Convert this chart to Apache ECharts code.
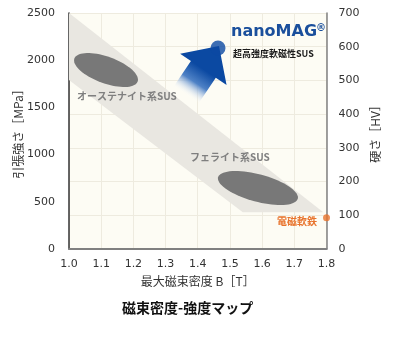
<!DOCTYPE html>
<html><head><meta charset="utf-8">
<script src="https://cdn.jsdelivr.net/npm/echarts@6/dist/echarts.min.js"></script>
<style>html,body{margin:0;padding:0;background:#fff}#c{width:400px;height:338px}</style>
</head><body><div id="c"></div>
<script>
// ---- data ----
const xTicks = [1.0, 1.1, 1.2, 1.3, 1.4, 1.5, 1.6, 1.7, 1.8];
const leftTicks = [0, 500, 1000, 1500, 2000, 2500];
const rightTicks = [0, 100, 200, 300, 400, 500, 600, 700];
// diagonal band (B [T], strength [MPa])
const bandB = [1.0, 1.79, 1.54, 1.0];
const bandMPa = [2500, 390, 390, 1790];
// ellipses: names, centre, major-axis ends, minor semi-axis (MPa)
const ellipseNames = ['オーステナイト系SUS', 'フェライト系SUS'];
const ellipseCenterB = [1.115, 1.587];
const ellipseCenterMPa = [1896, 646];
const ellipseEndB1 = [1.0165, 1.4635];
const ellipseEndMPa1 = [2013, 760];
const ellipseEndB2 = [1.213, 1.711];
const ellipseEndMPa2 = [1769, 533];
const ellipseMinorMPa = [141, 145];
// nanoMAG arrow (tail -> tip)
const arrowB = [1.3635, 1.466];
const arrowMPa = [1631, 2150];
// points
const nanoMagPoint = [1.463, 2129];
const ironPoint = [1.8, 330];

const chart = echarts.init(document.getElementById('c'), null, {renderer: 'canvas'});
const FONT = 'DejaVu Sans';
const JP = '"Noto Sans CJK JP"';

function bandRender(params, api) {
  const pts = bandB.map((b, i) => api.coord([b, bandMPa[i]]));
  return {type: 'polygon', shape: {points: pts}, style: {fill: '#e9e7e1'}, silent: true};
}
function ellipseRender(params, api) {
  const i = params.dataIndex;
  const c = api.coord([ellipseCenterB[i], ellipseCenterMPa[i]]);
  const p1 = api.coord([ellipseEndB1[i], ellipseEndMPa1[i]]);
  const p2 = api.coord([ellipseEndB2[i], ellipseEndMPa2[i]]);
  const a = Math.hypot(p2[0] - p1[0], p2[1] - p1[1]) / 2;
  const ang = Math.atan2(p2[1] - p1[1], p2[0] - p1[0]);
  const b = api.size([0, ellipseMinorMPa[i]])[1];
  const pts = [];
  for (let k = 0; k < 72; k++) {
    const t = k / 72 * Math.PI * 2;
    const x = a * Math.cos(t), y = b * Math.sin(t);
    pts.push([c[0] + x * Math.cos(ang) - y * Math.sin(ang), c[1] + x * Math.sin(ang) + y * Math.cos(ang)]);
  }
  return {type: 'polygon', shape: {points: pts}, style: {fill: '#787878'}, silent: true};
}
function arrowRender(params, api) {
  const t = api.coord([arrowB[0], arrowMPa[0]]);
  const p = api.coord([arrowB[1], arrowMPa[1]]);
  const L = Math.hypot(p[0] - t[0], p[1] - t[1]);
  const ux = (p[0] - t[0]) / L, uy = (p[1] - t[1]) / L;
  const nx = -uy, ny = ux;
  const headLen = 28, headHalf = 28, shaftHalf = 15;
  const bx = p[0] - ux * headLen, by = p[1] - uy * headLen;
  const pts = [
    [t[0] + nx * shaftHalf, t[1] + ny * shaftHalf],
    [bx + nx * shaftHalf, by + ny * shaftHalf],
    [bx + nx * headHalf, by + ny * headHalf],
    [p[0], p[1]],
    [bx - nx * headHalf, by - ny * headHalf],
    [bx - nx * shaftHalf, by - ny * shaftHalf],
    [t[0] - nx * shaftHalf, t[1] - ny * shaftHalf]
  ];
  const grad = new echarts.graphic.LinearGradient(t[0], t[1], bx, by, [
    {offset: 0, color: 'rgba(255,255,255,0)'},
    {offset: 0.5, color: '#4f82c6'},
    {offset: 1, color: '#0b49a2'}
  ], true);
  return {type: 'polygon', shape: {points: pts}, style: {fill: grad}, silent: true};
}

const option = {
  animation: false,
  backgroundColor: '#ffffff',
  grid: {left: 69, right: 73.5, top: 13, bottom: 89, show: true, backgroundColor: '#fdfcf4', borderWidth: 0,
         containLabel: false, outerBoundsMode: 'none'},
  xAxis: {
    type: 'value', min: xTicks[0], max: xTicks[xTicks.length - 1], interval: 0.1,
    name: '最大磁束密度 B［T］', nameLocation: 'middle', nameGap: 26, nameMoveOverlap: false,
    nameTextStyle: {fontFamily: JP, fontSize: 12, color: '#333'},
    axisLine: {show: true, lineStyle: {color: '#808080', width: 2}},
    axisTick: {show: false},
    axisLabel: {formatter: v => v.toFixed(1), fontFamily: FONT, fontSize: 11, color: '#333', margin: 10},
    splitLine: {show: true, lineStyle: {color: '#eeebdf', width: 1}}
  },
  yAxis: [{
    type: 'value', min: leftTicks[0], max: leftTicks[leftTicks.length - 1], interval: 500,
    name: '引張強さ［MPa］', nameLocation: 'middle', nameGap: 45, nameRotate: 90, nameMoveOverlap: false,
    nameTextStyle: {fontFamily: JP, fontSize: 12, color: '#333'},
    axisLine: {show: true, lineStyle: {color: '#333', width: 1.5}},
    axisTick: {show: false},
    axisLabel: {formatter: v => String(v), fontFamily: FONT, fontSize: 11, color: '#333', margin: 14},
    splitLine: {show: false}
  }, {
    type: 'value', position: 'right', min: rightTicks[0], max: rightTicks[rightTicks.length - 1], interval: 100,
    name: '硬さ［HV］', nameLocation: 'middle', nameGap: 43, nameRotate: 90, nameMoveOverlap: false,
    nameTextStyle: {fontFamily: JP, fontSize: 12, color: '#333'},
    axisLine: {show: true, lineStyle: {color: '#808080', width: 1.5}},
    axisTick: {show: false},
    axisLabel: {formatter: v => String(v), fontFamily: FONT, fontSize: 11, color: '#333', margin: 12},
    splitLine: {show: true, lineStyle: {color: '#eeebdf', width: 1}}
  }],
  series: [
    {type: 'custom', renderItem: bandRender, data: [0], clip: true, z: 1, silent: true},
    {type: 'custom', renderItem: ellipseRender, data: ellipseNames.map((n, i) => [ellipseCenterB[i], ellipseCenterMPa[i]]), z: 2, silent: true},
    {type: 'custom', renderItem: arrowRender, data: [0], z: 3, silent: true},
    {type: 'scatter', data: [nanoMagPoint], symbolSize: 15, itemStyle: {color: '#0b49a2'}, z: 4, silent: true},
    {type: 'scatter', data: [ironPoint], symbolSize: 7, itemStyle: {color: '#e8732c'}, clip: false, z: 4, silent: true}
  ],
  graphic: [
    {type: 'text', z: 100, left: 77, top: 91, style: {text: ellipseNames[0], font: 'bold 10px ' + JP, fill: '#7f7f7f'}},
    {type: 'text', z: 100, left: 190, top: 152, style: {text: ellipseNames[1], font: 'bold 10px ' + JP, fill: '#7f7f7f'}},
    {type: 'text', z: 100, left: 231, top: 24, style: {text: 'nanoMAG', font: 'bold 16px ' + FONT, fill: '#1a4f9c'}},
    {type: 'text', z: 100, left: 316, top: 23, style: {text: '®', font: 'bold 10px ' + FONT, fill: '#1a4f9c'}},
    {type: 'text', z: 100, left: 233, top: 49, style: {text: '超高強度軟磁性SUS', font: 'bold 9px ' + JP, fill: '#1a1a1a'}},
    {type: 'text', z: 100, left: 277, top: 216, style: {text: '電磁軟鉄', font: 'bold 10px ' + JP, fill: '#e8732c'}},
    {type: 'text', z: 100, left: 122, top: 301, style: {text: '磁束密度-強度マップ', font: 'bold 14px ' + JP, fill: '#111'}}
  ]
};
chart.setOption(option);
</script></body></html>
